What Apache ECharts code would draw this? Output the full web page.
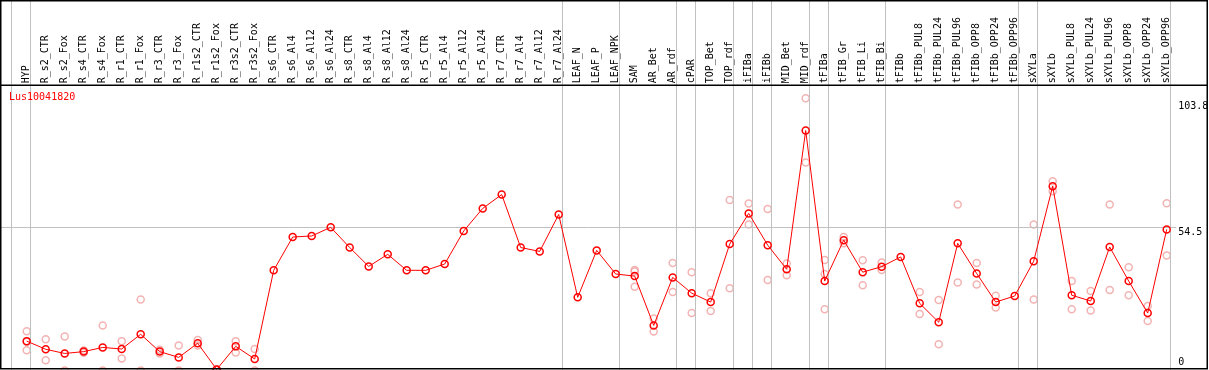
<!DOCTYPE html>
<html><head><meta charset="utf-8">
<script src="https://cdn.jsdelivr.net/npm/echarts@6/dist/echarts.min.js"></script>
<style>html,body{margin:0;padding:0;background:#fff}#c{width:1209px;height:370px}</style>
</head><body><div id="c"></div>
<script>
const geneName = 'Lus10041820';
const categories = ['HYP','R_s2_CTR','R_s2_Fox','R_s4_CTR','R_s4_Fox','R_r1_CTR','R_r1_Fox','R_r3_CTR','R_r3_Fox','R_r1s2_CTR','R_r1s2_Fox','R_r3s2_CTR','R_r3s2_Fox','R_s6_CTR','R_s6_Al4','R_s6_Al12','R_s6_Al24','R_s8_CTR','R_s8_Al4','R_s8_Al12','R_s8_Al24','R_r5_CTR','R_r5_Al4','R_r5_Al12','R_r5_Al24','R_r7_CTR','R_r7_Al4','R_r7_Al12','R_r7_Al24','LEAF_N','LEAF_P','LEAF_NPK','SAM','AR_Bet','AR_rdf','cPAR','TOP_Bet','TOP_rdf','iFIBa','iFIBb','MID_Bet','MID_rdf','tFIBa','tFIB_Gr','tFIB_Li','tFIB_Bi','tFIBb','tFIBb_PUL8','tFIBb_PUL24','tFIBb_PUL96','tFIBb_OPP8','tFIBb_OPP24','tFIBb_OPP96','sXYLa','sXYLb','sXYLb_PUL8','sXYLb_PUL24','sXYLb_PUL96','sXYLb_OPP8','sXYLb_OPP24','sXYLb_OPP96'];
const meanValues = [11.2,8.1,6.5,7.2,8.8,8.2,13.8,7.2,5.0,10.4,0.4,9.2,4.4,38.2,50.9,51.3,54.6,46.9,39.7,44.3,38.2,38.2,40.6,53.2,61.8,67.1,46.9,45.4,59.5,27.9,45.8,36.8,36.0,17.2,35.5,29.5,26.1,48.2,59.9,47.8,38.6,91.5,34.1,49.7,37.5,39.6,43.3,25.6,18.4,48.5,37.0,26.1,28.4,41.7,70.3,28.7,26.5,47.1,34.1,21.9,53.8];
const rep1 = [15.0,11.9,13.0,7.6,17.2,11.2,27.1,7.9,9.5,11.6,0.5,11.2,8.2,null,null,null,null,null,null,null,null,null,null,null,null,null,null,null,null,null,null,null,38.3,19.8,41.0,37.5,29.5,65.0,63.7,61.6,40.8,103.8,42.1,48.5,42.0,41.2,null,29.9,26.9,63.3,41.0,28.5,null,55.7,72.2,34.1,30.3,63.3,39.4,24.6,63.8];
const rep2 = [7.7,3.9,0,6.8,0,4.6,0,6.5,0,9.5,0.3,6.9,0,null,null,null,null,null,null,null,null,null,null,null,null,null,null,null,null,null,null,null,31.9,14.9,29.9,21.9,22.7,31.4,55.7,34.5,36.3,79.3,36.8,50.9,32.5,38.3,null,21.5,10.0,33.6,32.8,24.0,null,27.1,68.4,23.4,22.9,30.7,28.7,18.9,43.9];
const rep3 = [11.0,null,null,null,null,null,null,null,null,null,null,null,null,null,null,null,null,null,null,null,null,null,null,null,null,null,null,null,null,null,null,null,37.8,null,null,null,null,null,null,null,null,null,23.4,null,null,null,null,null,null,null,null,null,null,null,null,null,null,null,null,null,null];
const yTicks = [0, 54.5, 103.8];
const groupEnds = [-1,0,28,31,34,35,37,38,39,41,42,45,52,53,60];

const X_MIN = -2, X_MAX = 60.5;
const LEFT = -11.3, RIGHT = 32.8;
const repColor = '#f0a0a0';

function repData(arr){ const d=[]; arr.forEach((v,i)=>{ if(v!==null) d.push([i,v]); }); return d; }
const repSeries = [rep1,rep2,rep3].map(r => ({
  type:'scatter', xAxisIndex:0, yAxisIndex:0, data: repData(r), symbol:'circle', symbolSize:7,
  itemStyle:{color:'rgba(0,0,0,0)', borderColor:repColor, borderWidth:1.5}, z:2, silent:true
}));

const chart = echarts.init(document.getElementById('c'), null, {renderer:'canvas'});
chart.setOption({
  animation:false,
  backgroundColor:'#fff',
  title:{text:geneName, left:9, top:92, padding:0, textStyle:{color:'#ff0000', fontSize:10, fontWeight:'normal', fontFamily:'DejaVu Sans Mono'}},
  grid:[
    {left:LEFT, right:RIGHT, top:98.3, height:272.2, outerBoundsMode:'none', containLabel:false},
    {left:LEFT, right:RIGHT, top:0, height:370, outerBoundsMode:'none', containLabel:false}
  ],
  xAxis:[
    {type:'value', gridIndex:0, position:'top', min:X_MIN, max:X_MAX, interval:1,
     axisLine:{show:false}, axisTick:{show:false}, splitLine:{show:false},
     axisLabel:{show:true, rotate:90, margin:15, fontSize:10, fontFamily:'DejaVu Sans Mono', color:'#000',
       formatter:(v)=>{ const i=Math.round(v); return (Math.abs(v-i)<1e-6 && i>=0 && i<categories.length) ? categories[i] : ''; }}},
    {type:'value', gridIndex:1, min:X_MIN, max:X_MAX, show:false}
  ],
  yAxis:[
    {type:'value', gridIndex:0, position:'right', min:0, max:103.8,
     axisLine:{show:false}, axisTick:{show:false}, splitLine:{show:false},
     axisLabel:{show:true, customValues:yTicks, margin:2, fontSize:10, fontFamily:'DejaVu Sans Mono', color:'#000', align:'left',
       formatter:(v)=> v===0 ? '{b|0}' : (v===yTicks[2] ? '{m|'+v+'}' : '{t|'+v+'}'),
       rich:{ t:{padding:[10,0,0,0], fontSize:10, fontFamily:'DejaVu Sans Mono', color:'#000'},
              m:{padding:[17,0,0,0], fontSize:10, fontFamily:'DejaVu Sans Mono', color:'#000'},
              b:{padding:[0,0,16,0], fontSize:10, fontFamily:'DejaVu Sans Mono', color:'#000'} }}},
    {type:'value', gridIndex:1, min:0, max:1, show:false}
  ],
  graphic:[
    {type:'rect', z:100, silent:true, shape:{x:0.75, y:0.75, width:1206.5, height:368}, style:{fill:'none', stroke:'#000', lineWidth:1.5}},
    {type:'line', z:100, silent:true, shape:{x1:0, y1:85.25, x2:1208, y2:85.25}, style:{stroke:'#000', lineWidth:1.5}}
  ],
  series:[
    {type:'line', xAxisIndex:1, yAxisIndex:1, data:[], symbol:'none', silent:true, z:1,
     markLine:{silent:true, symbol:['none','none'], label:{show:false}, animation:false,
       lineStyle:{color:'#c0c0c0', type:'solid', width:1},
       data: groupEnds.map(g=>({xAxis:g+0.21}))}},
    {type:'line', xAxisIndex:0, yAxisIndex:0, data:[], symbol:'none', silent:true, z:1,
     markLine:{silent:true, symbol:['none','none'], label:{show:false}, animation:false,
       lineStyle:{color:'#c0c0c0', type:'solid', width:1},
       data:[{yAxis:yTicks[1]}]}},
    ...repSeries,
    {type:'line', xAxisIndex:0, yAxisIndex:0, data: meanValues.map((v,i)=>[i,v]), symbol:'circle', symbolSize:7, showSymbol:true,
     lineStyle:{color:'#ff0000', width:1}, itemStyle:{color:'rgba(0,0,0,0)', borderColor:'#ff0000', borderWidth:1.5}, z:5, silent:true}
  ]
});
</script></body></html>
